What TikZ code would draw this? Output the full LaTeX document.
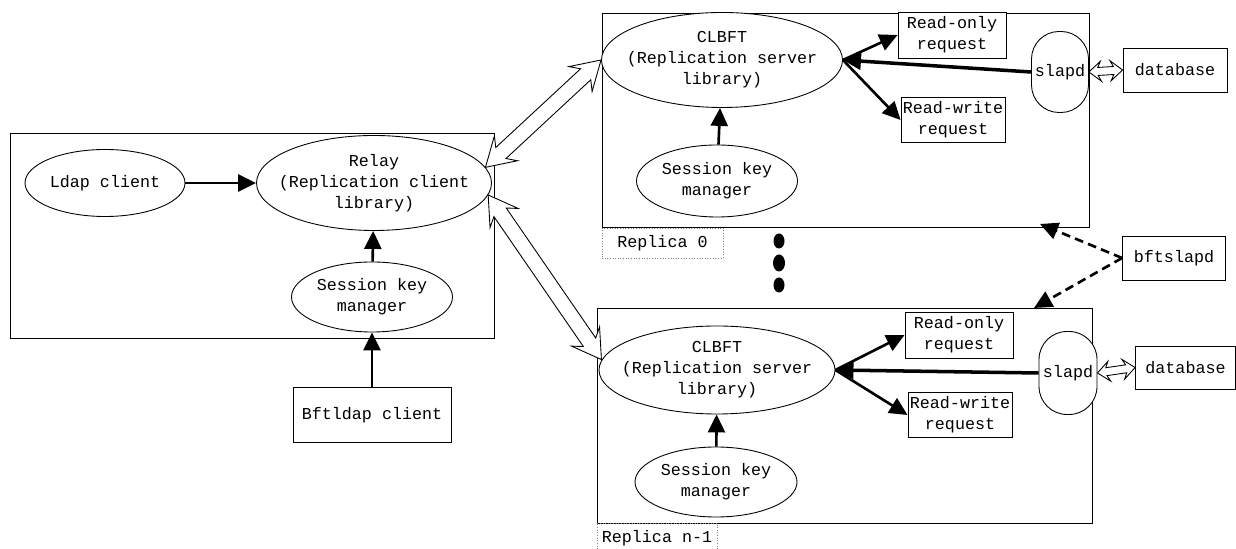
\documentclass[tikz,border=0pt]{standalone}
\usepackage{fontspec}
\setmainfont{Liberation Mono}
\usetikzlibrary{shapes.geometric,arrows.meta,calc}

% hollow double-headed block arrow with swept barbs:
% from, to, shaft half width, head half width, head length (cm)
\newcommand{\hollowarrow}[5]{%
  \draw[fill=white, line join=miter, line width=0.5pt]
    let \p1=(#1), \p2=(#2),
        \n1={atan2(\y2-\y1,\x2-\x1)},
        \n2={veclen(\x2-\x1,\y2-\y1)}
    in {[shift={(\p1)}, rotate=\n1]
      (0pt,0pt) -- (#5cm,#4cm) -- (0.75*#5cm,#3cm) -- (\n2-0.75*#5cm,#3cm)
      -- (\n2-#5cm,#4cm) -- (\n2,0pt) -- (\n2-#5cm,-#4cm)
      -- (\n2-0.75*#5cm,-#3cm) -- (0.75*#5cm,-#3cm) -- (#5cm,-#4cm) -- cycle};
}

\begin{document}
\begin{tikzpicture}[font=\fontsize{9.5}{12}\selectfont, line width=0.5pt,
    oval/.style={ellipse, draw, fill=white, align=center, inner sep=-1cm},
    box/.style={rectangle, draw, fill=white, align=center, inner sep=0pt},
    tag/.style={rectangle, draw=gray, densely dotted, inner sep=0pt},
    strong/.style={line width=1.5pt, -{Triangle[length=0.36cm,width=0.34cm]}}]
        \useasboundingbox (0,0) rectangle (24.72,10.98);

        \node[draw, minimum width=9.68cm, minimum height=4.1cm] (client) at (5.04, 6.27) {};
        \node[draw, minimum width=9.74cm, minimum height=4.28cm] (rep0) at (16.91, 8.58) {};
        \node[draw, minimum width=9.9cm, minimum height=4.3cm] (rep1) at (16.89, 2.67) {};

        \node[tag, minimum width=2.42cm, minimum height=0.6cm] (tag0) at (13.25, 6.12) {Replica 0};
        \node[tag, minimum width=2.4cm, minimum height=0.6cm] (tag1) at (13.14, 0.22) {Replica n-1};

        \node[oval, minimum width=3.2cm, minimum height=1.34cm] (ldap) at (2.1, 7.32) {Ldap client};
        \node[oval, minimum width=4.7cm, minimum height=1.9cm] (relay) at (7.48, 7.32) {Relay\\(Replication client\\library)};
        \node[oval, minimum width=3.22cm, minimum height=1.4cm] (skmc) at (7.44, 5.04) {Session key\\manager};
        \node[box, minimum width=3.16cm, minimum height=1.1cm] (bftldap) at (7.44, 2.68) {Bftldap client};

        \node[oval, minimum width=4.82cm, minimum height=1.9cm] (clbft0) at (14.44, 9.78) {CLBFT\\(Replication server\\library)};
        \node[oval, minimum width=3.22cm, minimum height=1.44cm] (skm0) at (14.34, 7.36) {Session key\\manager};
        \node[box, minimum width=2.16cm, minimum height=0.92cm] (ro0) at (19.04, 10.28) {Read-only\\request};
        \node[box, minimum width=2.08cm, minimum height=0.9cm] (rw0) at (19.06, 8.58) {Read-write\\request};
        \node[draw, fill=white, rounded corners=0.55cm, minimum width=1.14cm, minimum height=1.62cm, inner sep=0pt] (slapd0) at (21.2, 9.54) {slapd};
        \node[box, minimum width=2.08cm, minimum height=0.88cm] (db0) at (23.5, 9.58) {database};

        \node[oval, minimum width=4.72cm, minimum height=1.76cm] (clbft1) at (14.34, 3.58) {CLBFT\\(Replication server\\library)};
        \node[oval, minimum width=3.24cm, minimum height=1.4cm] (skm1) at (14.32, 1.34) {Session key\\manager};
        \node[box, minimum width=2.16cm, minimum height=0.92cm] (ro1) at (19.18, 4.28) {Read-only\\request};
        \node[box, minimum width=2.08cm, minimum height=0.9cm] (rw1) at (19.2, 2.68) {Read-write\\request};
        \node[draw, fill=white, rounded corners=0.56cm, minimum width=1.16cm, minimum height=1.66cm, inner sep=0pt] (slapd1) at (21.36, 3.52) {slapd};
        \node[box, minimum width=2.0cm, minimum height=0.86cm] (db1) at (23.71, 3.63) {database};

        \node[box, minimum width=2.06cm, minimum height=0.88cm] (bfts) at (23.48, 5.82) {bftslapd};
        \coordinate (hit0) at (20.8, 6.5);
        \coordinate (hit1) at (20.68, 4.82);

        \fill (15.58, 6.16) ellipse (0.11 and 0.15);
        \fill (15.58, 5.72) ellipse (0.12 and 0.17);
        \fill (15.58, 5.28) ellipse (0.11 and 0.15);

        \draw[strong] (ldap) -- (relay);
        \draw[strong] (skmc) -- (relay);
        \draw[strong] (bftldap) -- (skmc);

        \draw[strong] (skm0) -- (clbft0);
        \draw[strong] (clbft0.east) -- (ro0.west);
        \draw[strong] (clbft0.east) -- (rw0.west);
        \draw[strong, line width=2pt] (slapd0.west) -- (clbft0.east);

        \draw[strong] (skm1) -- (clbft1);
        \draw[strong] (clbft1.east) -- (ro1.west);
        \draw[strong] (clbft1.east) -- (rw1.west);
        \draw[strong, line width=2pt] (slapd1.west) -- (clbft1.east);

        \draw[strong, dash pattern=on 5pt off 3pt] (bfts.west) -- (hit0);
        \draw[strong, dash pattern=on 5pt off 3pt] (bfts.west) -- (hit1);

        \hollowarrow{relay.8}{clbft0.west}{0.15}{0.34}{0.56}
        \hollowarrow{relay.-6}{clbft1.175}{0.15}{0.34}{0.56}
        \hollowarrow{slapd0.east}{db0.west}{0.08}{0.2}{0.24}
        \hollowarrow{slapd1.east}{db1.west}{0.08}{0.2}{0.24}

    \end{tikzpicture}
\end{document}
